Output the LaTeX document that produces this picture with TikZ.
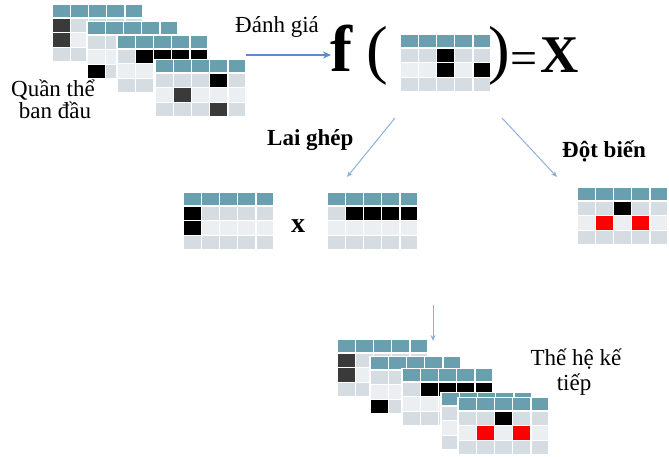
\documentclass[tikz,border=0pt]{standalone}
\usepackage{fontspec}
\setmainfont{Liberation Serif}
\usetikzlibrary{arrows.meta}

\definecolor{hdrteal}{HTML}{6A9FAF}
\definecolor{rowdark}{HTML}{D5DDE3}
\definecolor{rowlight}{HTML}{EBEFF1}
\definecolor{cellgray}{HTML}{3A3A3A}
\definecolor{arrowblue}{HTML}{5B8BCB}
\definecolor{thinblue}{HTML}{8DB0DA}

% A chromosome table: teal header row and three gene rows of five cells.
% #1,#2 = top-left corner, #3 = marked cells as column/row/colour
\newcommand\chromgrid[3]{%
  \begin{scope}[shift={(#1,#2)}]
    \fill[white] (-1,-1) rectangle (92,58);
    \foreach \cc in {0,...,4}{
      \fill[hdrteal]  ({\cc*18.2+0.7},0)    rectangle ++(16.8,12);
      \fill[rowdark]  ({\cc*18.2+0.7},13.5) rectangle ++(16.8,13.5);
      \fill[rowlight] ({\cc*18.2+0.7},28)   rectangle ++(16.8,13.5);
      \fill[rowdark]  ({\cc*18.2+0.7},42.5) rectangle ++(16.8,13.5);
    }
    \foreach \cc/\rr/\kk in {#3}{
      \fill[\kk] ({(\cc-1)*18.2+0.7},{13.5+(\rr-1)*14.5}) rectangle ++(16.8,13.5);
    }
  \end{scope}}

\tikzset{
  txtlabel/.style={inner sep=0pt, font=\fontsize{23}{26}\selectfont},
  boldlabel/.style={inner sep=0pt, font=\fontsize{23}{26}\selectfont\bfseries},
  formula/.style={inner sep=0pt},
  evalarrow/.style={draw=arrowblue, line width=1.6pt, -{Stealth[length=8pt,width=7pt]}},
  steparrow/.style={draw=thinblue, line width=1pt, -{Stealth[length=6pt,width=5pt]}}
}

\begin{document}
\begin{tikzpicture}[x=1pt, y=-1pt]
\useasboundingbox (0,0) rectangle (669,456);

% initial population
\chromgrid{52}{5}{1/1/cellgray, 1/2/cellgray}
\chromgrid{87}{22}{1/3/black}
\chromgrid{117}{36}{2/1/black, 3/1/black, 4/1/black, 5/1/black}
\chromgrid{155}{60}{4/1/black, 2/2/cellgray, 4/3/cellgray}
\node[txtlabel, anchor=base] (pop1) at (53,96) {Quần thể};
\node[txtlabel, anchor=base] (pop2) at (55,118) {ban đầu};

% evaluation
\node[txtlabel, anchor=base west] (evaltext) at (235,32) {Đánh giá};
\coordinate (evalstart) at (246,55);
\node[formula, anchor=base west, font=\fontsize{66}{66}\selectfont\bfseries] (fsym) at (330,71) {f};
\coordinate (evalend) at (331,55);
\draw[evalarrow] (evalstart) -- (evalend);
\node[formula, anchor=base west, font=\fontsize{65}{65}\selectfont] (lpar) at (366,71.5) {(};
\chromgrid{400}{35}{3/1/black, 3/2/black, 5/2/black}
\node[formula, anchor=base west, font=\fontsize{65}{65}\selectfont] (rpar) at (488,71.5) {)};
\node[formula, anchor=base west, font=\fontsize{48}{48}\selectfont] (eqsign) at (510.5,74) {=};
\node[formula, anchor=base west, font=\fontsize{53}{53}\selectfont\bfseries] (xval) at (540,72) {X};

% crossover
\coordinate (crossstart) at (395,118);
\coordinate (crossend) at (347,177);
\draw[steparrow] (crossstart) -- (crossend);
\node[boldlabel, anchor=base west] (crosstext) at (267,145) {Lai ghép};
\chromgrid{183}{193}{1/1/black, 1/2/black}
\node[formula, anchor=base, font=\fontsize{28}{28}\selectfont\bfseries] (times) at (298,232) {x};
\chromgrid{327}{193}{2/1/black, 3/1/black, 4/1/black, 5/1/black}

% mutation
\coordinate (mutstart) at (502,118);
\coordinate (mutend) at (557,177);
\draw[steparrow] (mutstart) -- (mutend);
\node[boldlabel, anchor=base west] (muttext) at (562,157) {Đột biến};
\chromgrid{577}{188}{3/1/black, 2/2/red, 4/2/red}

% next generation
\coordinate (nextstart) at (433,305);
\coordinate (nextend) at (433,341);
\draw[steparrow] (nextstart) -- (nextend);
\chromgrid{337}{340}{1/1/cellgray, 1/2/cellgray}
\chromgrid{370}{357}{1/3/black}
\chromgrid{402}{369}{2/1/black, 3/1/black, 4/1/black, 5/1/black}
\chromgrid{441}{393}{1/1/rowdark}
\chromgrid{458}{398}{3/1/black, 2/2/red, 4/2/red}
\node[txtlabel, anchor=base] (next1) at (576,365) {Thế hệ kế};
\node[txtlabel, anchor=base] (next2) at (574,390) {tiếp};
\end{tikzpicture}
\end{document}
